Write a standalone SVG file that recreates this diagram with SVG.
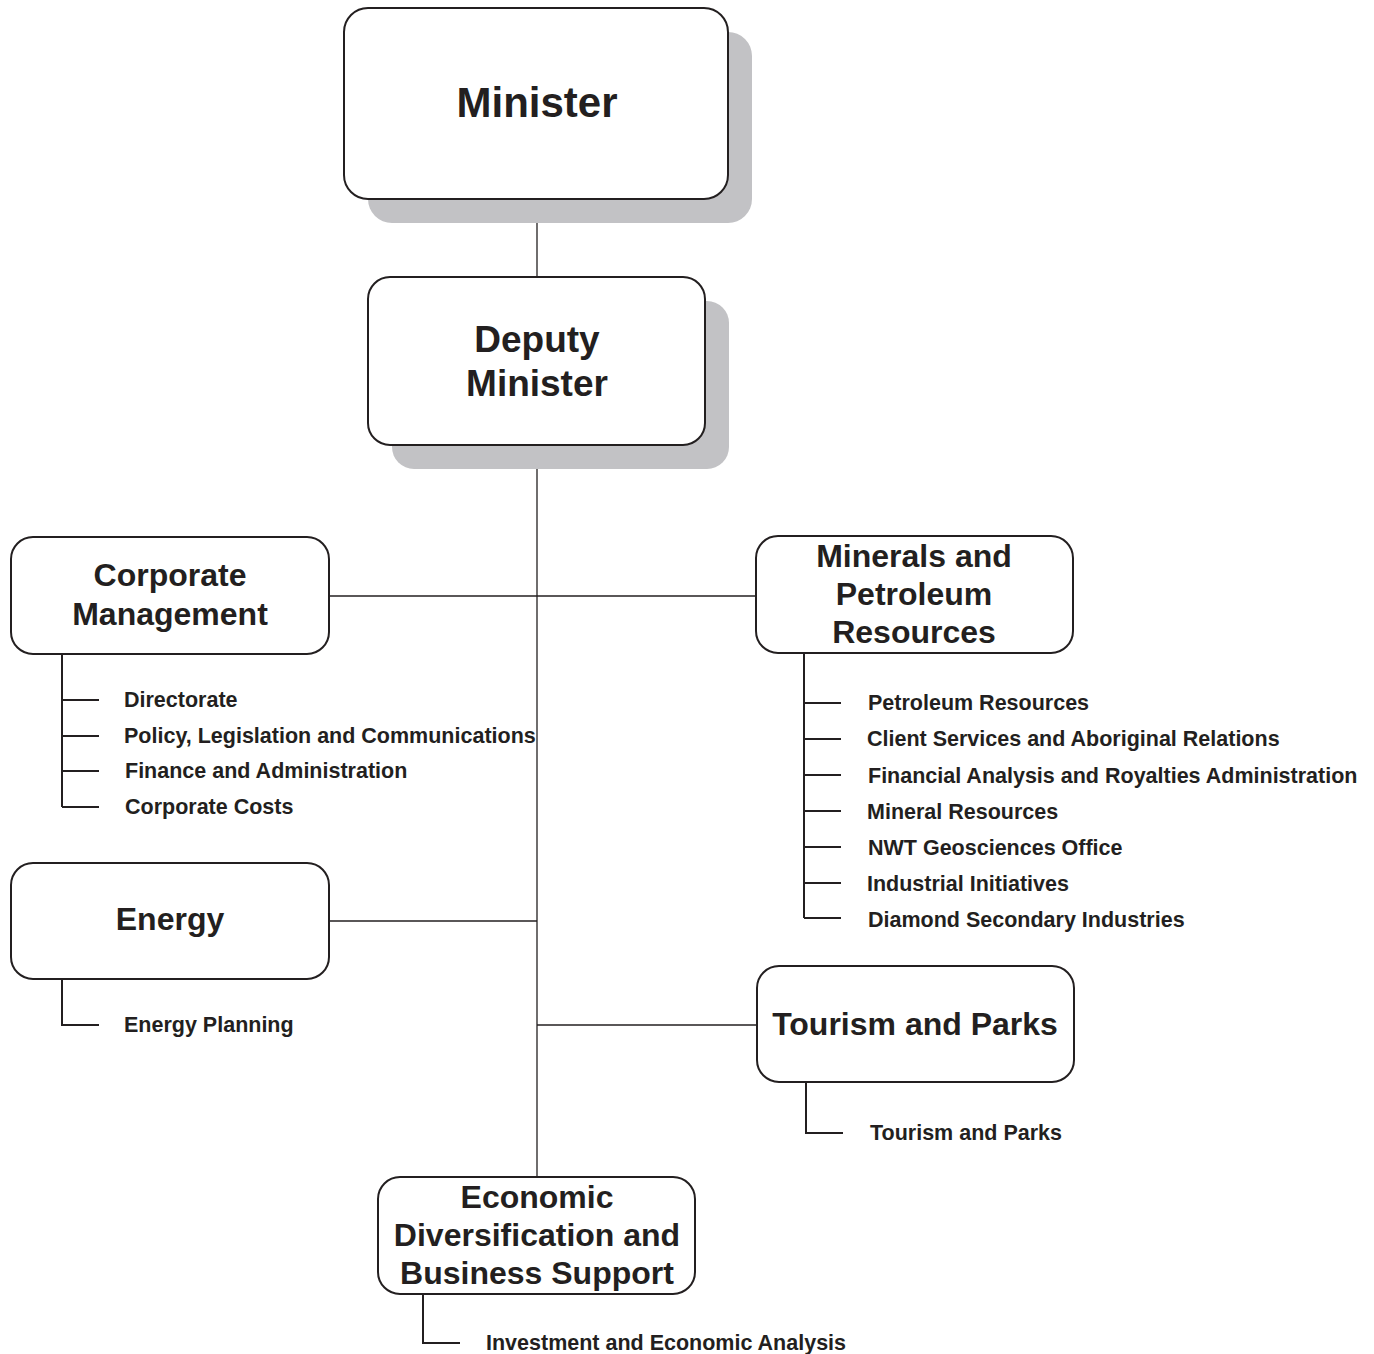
<svg xmlns="http://www.w3.org/2000/svg" width="1374" height="1354" viewBox="0 0 1374 1354">
<style>
.box{fill:#fff;stroke:#231f20;stroke-width:2}
.shadow{fill:#c2c2c5}
.t{font-family:"Liberation Sans",Arial,sans-serif;font-weight:bold;fill:#231f20;text-anchor:middle}
.s{font-family:"Liberation Sans",Arial,sans-serif;font-weight:bold;fill:#231f20;font-size:21.5px}
.c{stroke:#231f20;stroke-width:1.3;fill:none}
.k{stroke:#231f20;stroke-width:2;fill:none}
</style>
<rect width="1374" height="1354" fill="#fff"/>
<g id="connectors">
<line class="c" x1="537" y1="199" x2="537" y2="277"/>
<line class="c" x1="537" y1="445" x2="537" y2="1177"/>
<line class="c" x1="329" y1="596" x2="756" y2="596"/>
<line class="c" x1="329" y1="921" x2="537" y2="921"/>
<line class="c" x1="537" y1="1025" x2="757" y2="1025"/>
</g>
<g id="minister">
<rect class="shadow" x="368" y="32" width="384" height="191" rx="24"/>
<rect class="box" x="344" y="8" width="384" height="191" rx="24"/>
<text class="t" x="537" y="117" font-size="42">Minister</text>
</g>
<g id="deputy-minister">
<rect class="shadow" x="392" y="301" width="337" height="168" rx="22"/>
<rect class="box" x="368" y="277" width="337" height="168" rx="22"/>
<text class="t" x="537" y="352" font-size="37">Deputy</text>
<text class="t" x="537" y="396" font-size="37">Minister</text>
</g>
<g id="corporate-management">
<rect class="box" x="11" y="537" width="318" height="117" rx="22"/>
<text class="t" x="170" y="586" font-size="32">Corporate</text>
<text class="t" x="170" y="625" font-size="32">Management</text>
<path class="k" d="M62 654 V807 M62 700 H99 M62 736 H99 M62 771 H99 M62 807 H99"/>
<text class="s" x="124" y="707">Directorate</text>
<text class="s" x="124" y="743">Policy, Legislation and Communications</text>
<text class="s" x="125" y="778">Finance and Administration</text>
<text class="s" x="125" y="814">Corporate Costs</text>
</g>
<g id="minerals-petroleum">
<rect class="box" x="756" y="536" width="317" height="117" rx="22"/>
<text class="t" x="914" y="567" font-size="32">Minerals and</text>
<text class="t" x="914" y="605" font-size="32">Petroleum</text>
<text class="t" x="914" y="643" font-size="32">Resources</text>
<path class="k" d="M804 653 V918 M804 703 H841 M804 739 H841 M804 775 H841 M804 811 H841 M804 847 H841 M804 883 H841 M804 918 H841"/>
<text class="s" x="868" y="710">Petroleum Resources</text>
<text class="s" x="867" y="746">Client Services and Aboriginal Relations</text>
<text class="s" x="868" y="783">Financial Analysis and Royalties Administration</text>
<text class="s" x="867" y="819">Mineral Resources</text>
<text class="s" x="868" y="855">NWT Geosciences Office</text>
<text class="s" x="867" y="891">Industrial Initiatives</text>
<text class="s" x="868" y="927">Diamond Secondary Industries</text>
</g>
<g id="energy">
<rect class="box" x="11" y="863" width="318" height="116" rx="22"/>
<text class="t" x="170" y="930" font-size="32">Energy</text>
<path class="k" d="M62 979 V1025 H99"/>
<text class="s" x="124" y="1032">Energy Planning</text>
</g>
<g id="tourism-parks">
<rect class="box" x="757" y="966" width="317" height="116" rx="22"/>
<text class="t" x="915" y="1035" font-size="32">Tourism and Parks</text>
<path class="k" d="M806 1082 V1133 H843"/>
<text class="s" x="870" y="1140">Tourism and Parks</text>
</g>
<g id="economic-diversification">
<rect class="box" x="378" y="1177" width="317" height="117" rx="22"/>
<text class="t" x="537" y="1208" font-size="32">Economic</text>
<text class="t" x="537" y="1246" font-size="32">Diversification and</text>
<text class="t" x="537" y="1284" font-size="32">Business Support</text>
<path class="k" d="M423 1294 V1343 H460"/>
<text class="s" x="486" y="1350">Investment and Economic Analysis</text>
</g>
</svg>
